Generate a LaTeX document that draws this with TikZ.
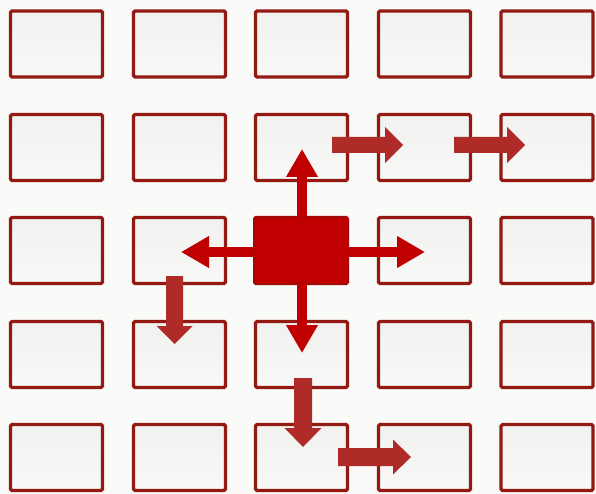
\documentclass[tikz,border=0pt]{standalone}
\usetikzlibrary{arrows.meta}
\definecolor{bg}{HTML}{FAFAF8}
\definecolor{boxline}{HTML}{921A12}
\definecolor{boxtop}{HTML}{F1F1EF}
\definecolor{boxbot}{HTML}{F8F8F6}
\definecolor{hotred}{HTML}{C00000}
\definecolor{hotline}{HTML}{A00808}
\definecolor{brick}{HTML}{AE2B28}
\tikzset{
  cell/.style={draw=boxline, line width=3.2pt, rounded corners=1.5pt,
    top color=boxtop, bottom color=boxbot,
    minimum width=92pt, minimum height=66pt, inner sep=0pt, outer sep=0pt},
  hotcell/.style={cell, draw=hotline, line width=2pt, fill=hotred, top color=hotred, bottom color=hotred,
    minimum width=94pt, minimum height=67pt},
  spread/.style={draw=hotred, line width=10pt, -{Triangle[width=30pt,length=28pt]}},
  blockarrow/.style={fill=brick}
}
\begin{document}
\begin{tikzpicture}[x=1pt,y=-1pt]
\fill[bg] (0,0) rectangle (596,494);
\useasboundingbox (0,0) rectangle (596,494);
% grid of cells
\foreach \r/\y in {1/44,2/147.5,3/250.5,4/354.5,5/457.5}{
  \foreach \c/\x in {1/56.5,2/179.5,3/301.5,4/424.5,5/547}{
    \ifnum\r=3 \ifnum\c=3 \else
      \node[cell] (b-\r-\c) at (\x,\y) {};
    \fi\else
      \node[cell] (b-\r-\c) at (\x,\y) {};
    \fi
  }
}
% centre cell
\node[hotcell] (hot) at (301,250.5) {};
\coordinate (tipU) at (302,149);
\coordinate (tipD) at (302,353);
\coordinate (tipL) at (181,252);
\coordinate (tipR) at (425,252);
\draw[spread] (hot.north -| tipU) -- (tipU);
\draw[spread] (hot.south -| tipD) -- (tipD);
\draw[spread] (hot.west |- tipL) -- (tipL);
\draw[spread] (hot.east |- tipR) -- (tipR);
% block arrows (right)
\fill[blockarrow] (332,137) -- (385,137) -- (385,127) -- (403,145) -- (385,163) -- (385,153) -- (332,153) -- cycle;
\fill[blockarrow] (454,137) -- (507,137) -- (507,127) -- (525,145) -- (507,163) -- (507,153) -- (454,153) -- cycle;
\fill[blockarrow] (338,448) -- (393,448) -- (393,439.5) -- (411,457) -- (393,474.5) -- (393,466) -- (338,466) -- cycle;
% block arrows (down)
\fill[blockarrow] (166,276) -- (183,276) -- (183,326) -- (192.5,326) -- (174.5,344) -- (156.5,326) -- (166,326) -- cycle;
\fill[blockarrow] (294,378) -- (312,378) -- (312,428) -- (321.5,428) -- (303,447) -- (284.5,428) -- (294,428) -- cycle;
\end{tikzpicture}
\end{document}
